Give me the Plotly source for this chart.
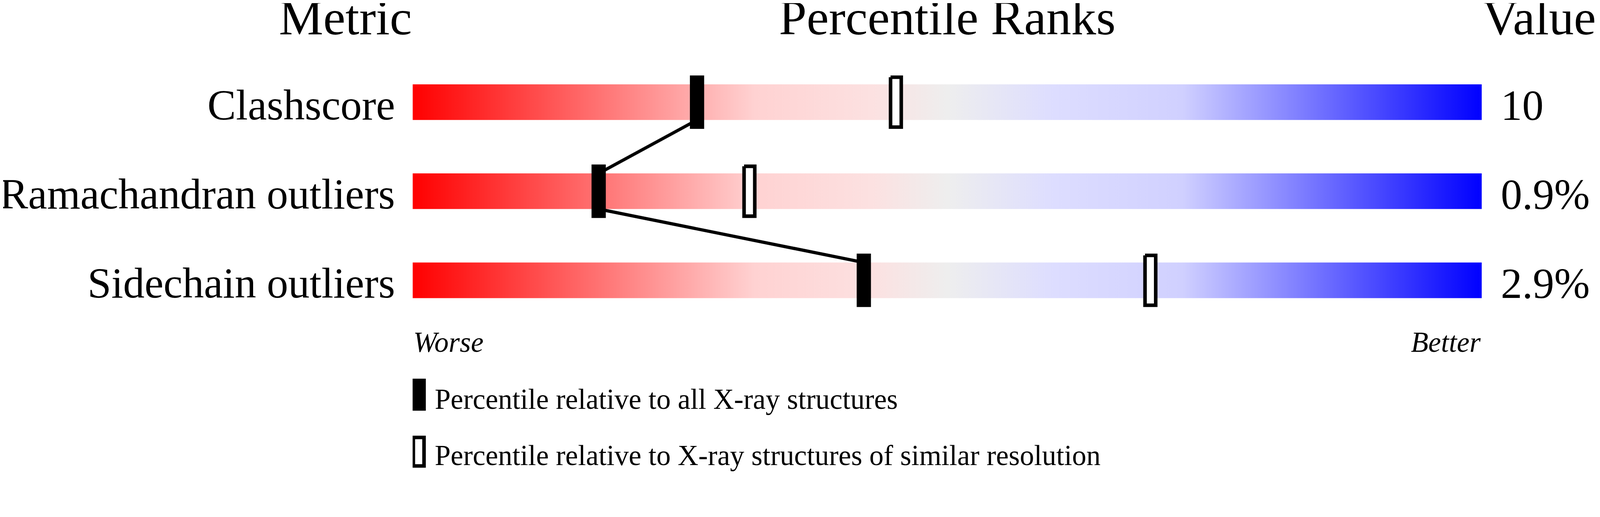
import plotly.graph_objects as go

metrics = ["Clashscore", "Ramachandran outliers", "Sidechain outliers"]
values = ["10", "0.9%", "2.9%"]
pct_all = [26.6, 17.4, 42.2]   # percentile relative to all X-ray structures
pct_res = [45.2, 31.5, 69.0]   # percentile relative to similar resolution
legend_labels = ["Percentile relative to all X-ray structures",
                 "Percentile relative to X-ray structures of similar resolution"]

# the page gets photographed a bit bigger than css pixels (plus the body
# margin), so everything measured on the reference is corrected by these
SCALE = 1.096
OFF_X, OFF_Y = -3, -8

W, H = 4485, 1324                 # reference pixels
X_LEFT, X_RIGHT = 1152, 4152      # pixel span of the 0..100 scale
PX_X = (X_RIGHT - X_LEFT) / 100.0
ROW0, PX_Y = 286, 250             # pixel centre of first row, pixels per row

FONT = "Liberation Serif, Times New Roman, serif"

gradient = [[0.0, "#FF0000"], [0.32, "#FFD2D2"], [0.43, "#FCE1E1"],
            [0.5, "#EEEEEE"], [0.6, "#DDDDFF"], [0.72, "#D0D0FF"],
            [1.0, "#0000FF"]]


def px_x(p):
    return (p - X_LEFT) / PX_X


def px_y(p):
    return (p - ROW0) / PX_Y


def sz(v):
    return v / SCALE


def rect(xc, yc, hw, hh):
    xs = [xc - hw, xc + hw, xc + hw, xc - hw, xc - hw]
    ys = [yc - hh, yc - hh, yc + hh, yc + hh, yc - hh]
    return xs, ys


fig = go.Figure()

# gradient bars
bar_hh = 50 / PX_Y
for i, m in enumerate(metrics):
    fig.add_trace(go.Scatter(
        x=[0, 100, 100, 0, 0],
        y=[i - bar_hh, i - bar_hh, i + bar_hh, i + bar_hh, i - bar_hh],
        mode="lines", fill="toself", line=dict(width=0),
        fillgradient=dict(type="horizontal", colorscale=gradient),
        hoverinfo="skip", name=m))

# line joining the "all structures" markers
lx, ly = [], []
for i, p in enumerate(pct_all):
    lx += [p, p]
    ly += [i - bar_hh, i + bar_hh]
fig.add_trace(go.Scatter(x=lx[1:-1], y=ly[1:-1], mode="lines",
                         line=dict(color="black", width=sz(9)),
                         hoverinfo="skip"))

# filled markers
for i, p in enumerate(pct_all):
    xs, ys = rect(p, i, 20 / PX_X, 75 / PX_Y)
    fig.add_trace(go.Scatter(x=xs, y=ys, mode="lines", fill="toself",
                             fillcolor="black", line=dict(width=0),
                             hoverinfo="skip"))

# open markers
for i, p in enumerate(pct_res):
    xs, ys = rect(p, i, 15 / PX_X, 70 / PX_Y)
    fig.add_trace(go.Scatter(x=xs, y=ys, mode="lines", fill="toself",
                             fillcolor="white",
                             line=dict(color="black", width=sz(10)),
                             hoverinfo="skip"))

ann = []


def text(x_px, y_px, s, size, anchor, italic=False):
    # positions in reference pixels, placed on paper so nothing gets hidden
    ann.append(dict(x=(x_px + OFF_X) / W, y=1 - (y_px + OFF_Y) / H,
                    xref="paper", yref="paper", text=s, showarrow=False,
                    xanchor=anchor, yanchor="middle",
                    font=dict(family=FONT, size=sz(size), color="black",
                              style="italic" if italic else "normal")))


# headers
text(X_LEFT, 49, "Metric", 140, "right")
text((X_LEFT + X_RIGHT) / 2, 49, "Percentile Ranks", 140, "center")
text(X_RIGHT, 49, "Value", 140, "left")

for i, (m, v) in enumerate(zip(metrics, values)):
    yc = ROW0 + i * PX_Y
    text(1104, yc + 8, m, 120, "right")
    text(4203, yc + 9, v, 120, "left")

text(X_LEFT, 960, "Worse", 80, "left", italic=True)
text(X_RIGHT, 960, "Better", 80, "right", italic=True)

text(1212, 1120, legend_labels[0], 80, "left")
text(1212, 1278, legend_labels[1], 80, "left")

shapes = [
    dict(type="rect", xref="x", yref="y", x0=px_x(1149), x1=px_x(1189),
         y0=px_y(1062), y1=px_y(1152), fillcolor="black", line=dict(width=0)),
    dict(type="rect", xref="x", yref="y", x0=px_x(1154), x1=px_x(1184),
         y0=px_y(1227), y1=px_y(1307), fillcolor="white",
         line=dict(color="black", width=sz(10))),
]

fig.update_layout(
    width=round(W / SCALE), height=round(H / SCALE),
    margin=dict(l=0, r=0, t=0, b=0),
    paper_bgcolor="white", plot_bgcolor="white",
    showlegend=False,
    annotations=ann, shapes=shapes,
    xaxis=dict(domain=[(X_LEFT + OFF_X) / W, (X_RIGHT + OFF_X) / W],
               range=[0, 100], visible=False, fixedrange=True),
    yaxis=dict(domain=[0, 1], range=[px_y(H - OFF_Y), px_y(-OFF_Y)],
               visible=False, fixedrange=True),
)

fig.write_html("out.html", config={"displayModeBar": False})
